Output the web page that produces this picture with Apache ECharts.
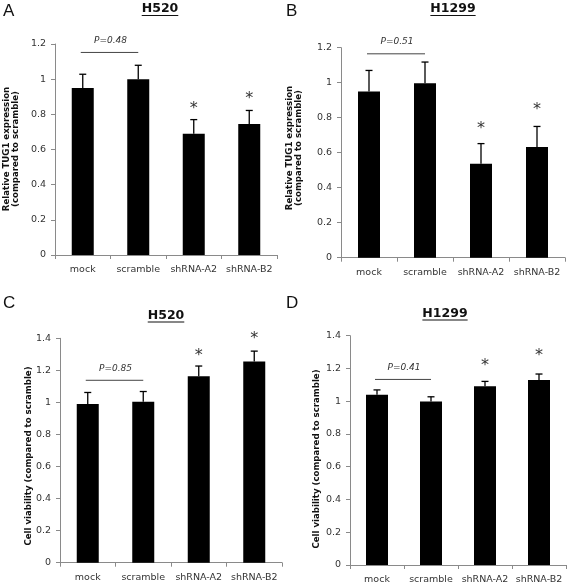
<!DOCTYPE html>
<html>
<head>
<meta charset="utf-8">
<script src="https://cdn.jsdelivr.net/npm/echarts@6/dist/echarts.min.js"></script>
<style>html,body{margin:0;padding:0;background:#fff}#c{width:567px;height:587px}</style>
</head>
<body>
<div id="c"></div>
<script>
// ---- data ----
const categories = ['mock', 'scramble', 'shRNA-A2', 'shRNA-B2'];
const panelLetters = ['A', 'B', 'C', 'D'];
const panelTitles = ['H520', 'H1299', 'H520', 'H1299'];
const yAxisNames = [
  'Relative TUG1 expression\n(compared to scramble)',
  'Relative TUG1 expression\n(compared to scramble)',
  'Cell viability (compared to scramble)',
  'Cell viability (compared to scramble)'
];
const yMax = [1.2, 1.2, 1.4, 1.4];
const yInterval = 0.2;

const valuesA = [0.95, 1.00, 0.69, 0.745];
const errorsA = [0.078, 0.079, 0.08, 0.077];
const valuesB = [0.95, 0.997, 0.537, 0.632];
const errorsB = [0.12, 0.121, 0.115, 0.118];
const valuesC = [0.99, 1.004, 1.163, 1.256];
const errorsC = [0.072, 0.064, 0.064, 0.064];
const valuesD = [1.039, 0.998, 1.092, 1.129];
const errorsD = [0.03, 0.029, 0.029, 0.037];

// significance asterisk levels (null = none)
const starsA = [null, null, 0.84, 0.90];
const starsB = [null, null, 0.748, 0.855];
const starsC = [null, null, 1.305, 1.41];
const starsD = [null, null, 1.226, 1.287];

// P-value brackets between mock and scramble
const pLabels = ['P=0.48', 'P=0.51', 'P=0.85', 'P=0.41'];
const pLevels = [1.152, 1.165, 1.138, 1.133];

const allValues = [valuesA, valuesB, valuesC, valuesD];
const allErrors = [errorsA, errorsB, errorsC, errorsD];
const allStars = [starsA, starsB, starsC, starsD];

// ---- layout ----
const grids = [
  {left: 55, top: 44, width: 222, height: 211},
  {left: 341, top: 47.7, width: 224, height: 210},
  {left: 60, top: 338.3, width: 222, height: 224.4},
  {left: 350, top: 335.7, width: 216, height: 229.3}
];
const letterPos = [[3, 3], [286, 3], [3, 295], [286, 295]];
const titlePos = [[160, 9], [453, 9], [166, 315.5], [445, 313.5]];
const yNamePos = [[11, 149], [294.5, 148], [28.5, 456], [317, 459]];

const FONT = 'DejaVu Sans';
const TXT = '#333';
const AX = '#8a8a8a';

function measure(text, font) {
  const c = document.createElement('canvas').getContext('2d');
  c.font = font;
  return c.measureText(text).width;
}

const xAxes = [], yAxes = [], series = [], graphics = [];
for (let i = 0; i < 4; i++) {
  xAxes.push({
    type: 'category', gridIndex: i, data: categories,
    axisLine: {lineStyle: {color: AX, width: 1}},
    axisTick: {show: true, length: 4, lineStyle: {color: AX}},
    axisLabel: {color: TXT, fontFamily: FONT, fontSize: 9.5, margin: 10, interval: 0, hideOverlap: false}
  });
  yAxes.push({
    type: 'value', gridIndex: i, min: 0, max: yMax[i], interval: yInterval,
    splitLine: {show: false},
    axisLine: {show: true, lineStyle: {color: AX, width: 1}},
    axisTick: {show: true, length: 4, lineStyle: {color: AX}},
    axisLabel: {color: TXT, fontFamily: FONT, fontSize: 9.5, margin: 9}
  });
  series.push({
    type: 'bar', xAxisIndex: i, yAxisIndex: i, data: allValues[i],
    barWidth: 22, itemStyle: {color: '#000'}, silent: true
  });
  series.push({
    type: 'custom', xAxisIndex: i, yAxisIndex: i, silent: true,
    data: allValues[i].map((v, k) => [k, v, allErrors[i][k]]),
    renderItem: function (params, api) {
      const b = api.coord([api.value(0), api.value(1)]);
      const t = api.coord([api.value(0), api.value(1) + api.value(2)]);
      const st = {stroke: '#000', lineWidth: 1.3};
      return {type: 'group', children: [
        {type: 'line', shape: {x1: b[0], y1: b[1], x2: t[0], y2: t[1]}, style: st},
        {type: 'line', shape: {x1: t[0] - 3.5, y1: t[1], x2: t[0] + 3.5, y2: t[1]}, style: st}
      ]};
    }
  });
  series.push({
    type: 'custom', xAxisIndex: i, yAxisIndex: i, silent: true,
    data: allStars[i].map((s, k) => [k, s]).filter(d => d[1] !== null),
    renderItem: function (params, api) {
      const p = api.coord([api.value(0), api.value(1)]);
      return {type: 'text', x: p[0], y: p[1] + 2, style: {
        text: '*', fill: '#333', font: '16px ' + FONT, align: 'center', verticalAlign: 'middle'
      }};
    }
  });
  series.push({
    type: 'custom', xAxisIndex: i, yAxisIndex: i, silent: true,
    data: [[0, pLevels[i], 1]],
    renderItem: (function (idx) {
      return function (params, api) {
        const a = api.coord([api.value(0), api.value(1)]);
        const b = api.coord([api.value(2), api.value(1)]);
        return {type: 'group', children: [
          {type: 'line', shape: {x1: a[0] - 2, y1: a[1], x2: b[0], y2: b[1]}, style: {stroke: '#444', lineWidth: 1}},
          {type: 'text', x: (a[0] + b[0]) / 2, y: a[1] - 12, style: {
            text: pLabels[idx], fill: '#333', font: 'italic 9px ' + FONT, align: 'center', verticalAlign: 'middle'
          }}
        ]};
      };
    })(i)
  });

  graphics.push({type: 'text', left: letterPos[i][0], top: letterPos[i][1], style: {
    text: panelLetters[i], fill: '#111', font: '17px "Liberation Sans"'
  }});
  const tf = 'bold 12.5px ' + FONT;
  const tw = measure(panelTitles[i], tf);
  graphics.push({type: 'text', x: titlePos[i][0], y: titlePos[i][1], style: {
    text: panelTitles[i], fill: '#111', font: tf, align: 'center', verticalAlign: 'middle'
  }});
  graphics.push({type: 'line', shape: {
    x1: titlePos[i][0] - tw / 2, y1: titlePos[i][1] + 6.5, x2: titlePos[i][0] + tw / 2, y2: titlePos[i][1] + 6.5
  }, style: {stroke: '#111', lineWidth: 1.2}});
  graphics.push({type: 'text', x: yNamePos[i][0], y: yNamePos[i][1], rotation: Math.PI / 2, style: {
    text: yAxisNames[i], fill: '#111', font: 'bold 8.6px ' + FONT, align: 'center', verticalAlign: 'middle', lineHeight: 9
  }});
}

const chart = echarts.init(document.getElementById('c'), null, {renderer: 'canvas'});
chart.setOption({
  animation: false,
  backgroundColor: '#fff',
  grid: grids,
  xAxis: xAxes,
  yAxis: yAxes,
  series: series,
  graphic: graphics
});
</script>
</body>
</html>
